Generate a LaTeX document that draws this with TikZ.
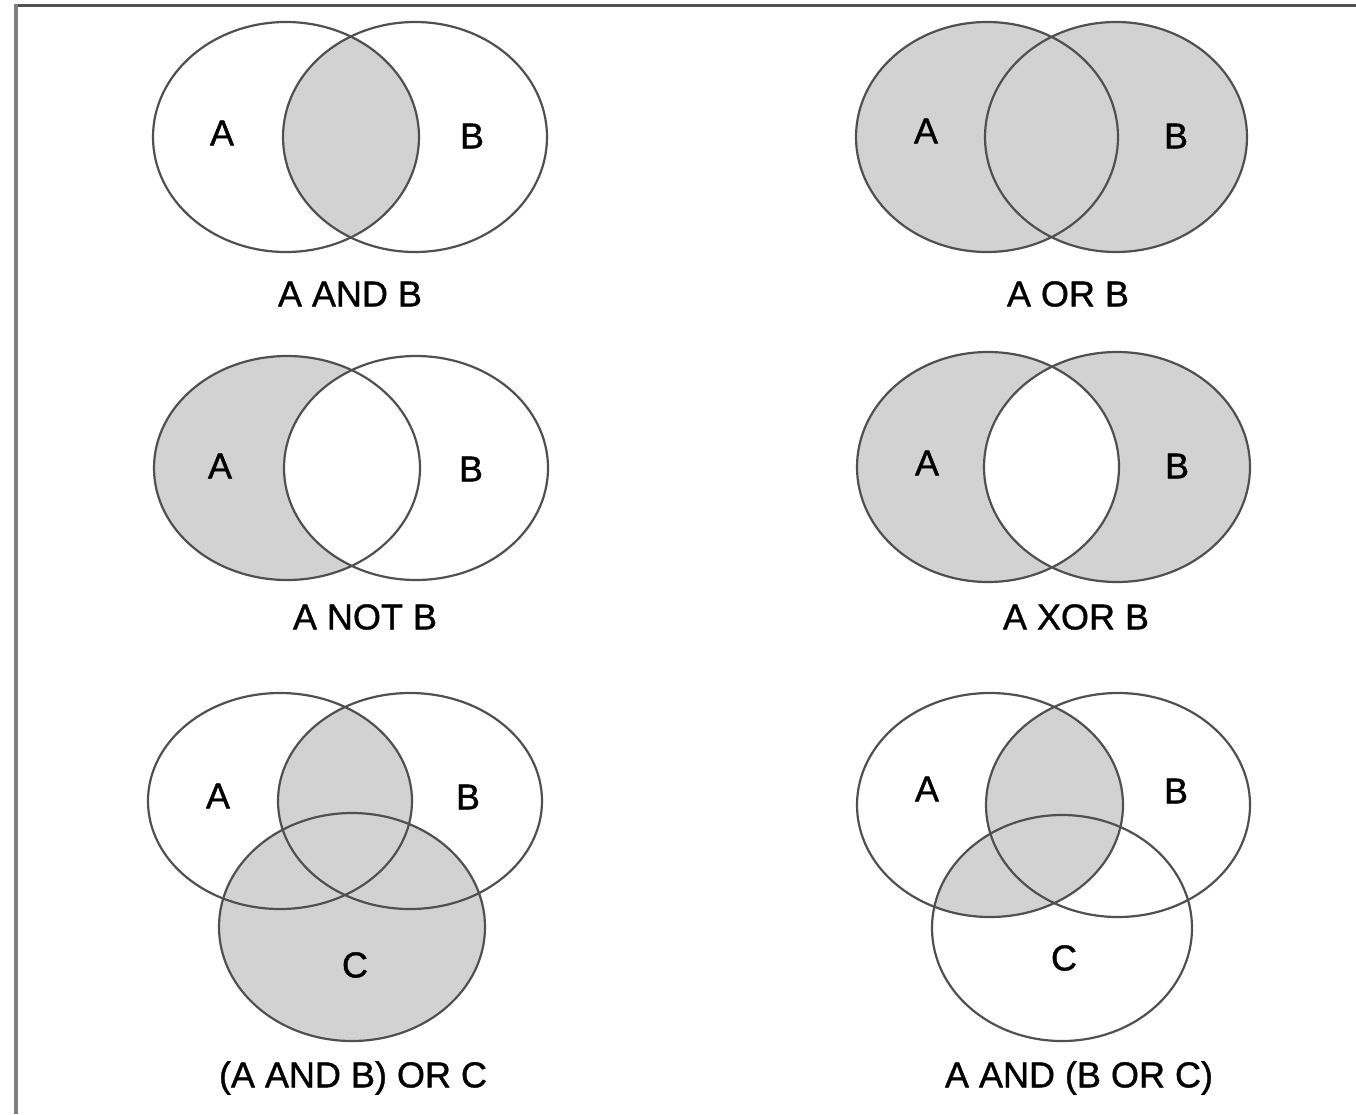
\documentclass[tikz,border=0pt]{standalone}
\usepackage{fontspec}
\setmainfont{Liberation Sans}
\newfontfamily\vennfont{Liberation Sans}[FakeBold=1.1]
\definecolor{vennline}{RGB}{80,80,80}
\definecolor{vennfill}{RGB}{210,210,210}

\begin{document}
\begin{tikzpicture}[x=1pt,y=-1pt,
  venn/.style={draw=vennline, line width=2.2pt},
  vennshade/.style={fill=vennfill},
  lbl/.style={font=\vennfont\fontsize{36}{40}\selectfont, inner sep=0pt}]
\useasboundingbox (0,0) rectangle (1356,1114);
\draw[line width=3pt, draw=black!68] (14,5.5) -- (1356,5.5);
\draw[line width=4pt, draw=black!50] (16,4) -- (16,1114);

% A AND B
\begin{scope}
\clip (286,137) ellipse [x radius=133pt, y radius=115pt];
\fill[vennshade] (415,137) ellipse [x radius=132pt, y radius=115pt];
\end{scope}
\draw[venn] (286,137) ellipse [x radius=133pt, y radius=115pt];
\draw[venn] (415,137) ellipse [x radius=132pt, y radius=115pt];
\node[lbl] (andA) at (222,133) {A};
\node[lbl] (andB) at (472,136) {B};
\node[lbl] (andcap) at (350,294) {A AND B};

% A OR B
\fill[vennshade] (987,137) ellipse [x radius=131pt, y radius=115pt];
\fill[vennshade] (1116,137) ellipse [x radius=131pt, y radius=115pt];
\draw[venn] (987,137) ellipse [x radius=131pt, y radius=115pt];
\draw[venn] (1116,137) ellipse [x radius=131pt, y radius=115pt];
\node[lbl] (orA) at (926,131) {A};
\node[lbl] (orB) at (1176,136) {B};
\node[lbl] (orcap) at (1068,294) {A OR B};

% A NOT B
\fill[vennshade] (287,468) ellipse [x radius=133pt, y radius=112pt];
\begin{scope}
\clip (287,468) ellipse [x radius=133pt, y radius=112pt];
\fill[white] (416,468) ellipse [x radius=132pt, y radius=112pt];
\end{scope}
\draw[venn] (287,468) ellipse [x radius=133pt, y radius=112pt];
\draw[venn] (416,468) ellipse [x radius=132pt, y radius=112pt];
\node[lbl] (notA) at (220,466) {A};
\node[lbl] (notB) at (471,469) {B};
\node[lbl] (notcap) at (365,617) {A NOT B};

% A XOR B
\fill[vennshade, even odd rule] (988,467) ellipse [x radius=131pt, y radius=115pt]
  (1117,467) ellipse [x radius=133pt, y radius=115pt];
\draw[venn] (988,467) ellipse [x radius=131pt, y radius=115pt];
\draw[venn] (1117,467) ellipse [x radius=133pt, y radius=115pt];
\node[lbl] (xorA) at (927,463) {A};
\node[lbl] (xorB) at (1177,466) {B};
\node[lbl] (xorcap) at (1076,617) {A XOR B};

% (A AND B) OR C
\fill[vennshade] (352,927) ellipse [x radius=133pt, y radius=114pt];
\begin{scope}
\clip (280,801) ellipse [x radius=132pt, y radius=108pt];
\fill[vennshade] (410,801) ellipse [x radius=132pt, y radius=108pt];
\end{scope}
\draw[venn] (280,801) ellipse [x radius=132pt, y radius=108pt];
\draw[venn] (410,801) ellipse [x radius=132pt, y radius=108pt];
\draw[venn] (352,927) ellipse [x radius=133pt, y radius=114pt];
\node[lbl] (abcA) at (218,796) {A};
\node[lbl] (abcB) at (468,797) {B};
\node[lbl] (abcC) at (355,965) {C};
\node[lbl] (abccap) at (353,1078) {(A AND B) OR C};

% A AND (B OR C)
\begin{scope}
\clip (990,805) ellipse [x radius=133pt, y radius=112pt];
\fill[vennshade] (1118,805) ellipse [x radius=132pt, y radius=112pt];
\fill[vennshade] (1062,928) ellipse [x radius=130pt, y radius=113pt];
\end{scope}
\draw[venn] (990,805) ellipse [x radius=133pt, y radius=112pt];
\draw[venn] (1118,805) ellipse [x radius=132pt, y radius=112pt];
\draw[venn] (1062,928) ellipse [x radius=130pt, y radius=113pt];
\node[lbl] (acbA) at (927,789) {A};
\node[lbl] (acbB) at (1176,791) {B};
\node[lbl] (acbC) at (1064,958) {C};
\node[lbl] (acbcap) at (1079,1078) {A AND (B OR C)};
\end{tikzpicture}
\end{document}
